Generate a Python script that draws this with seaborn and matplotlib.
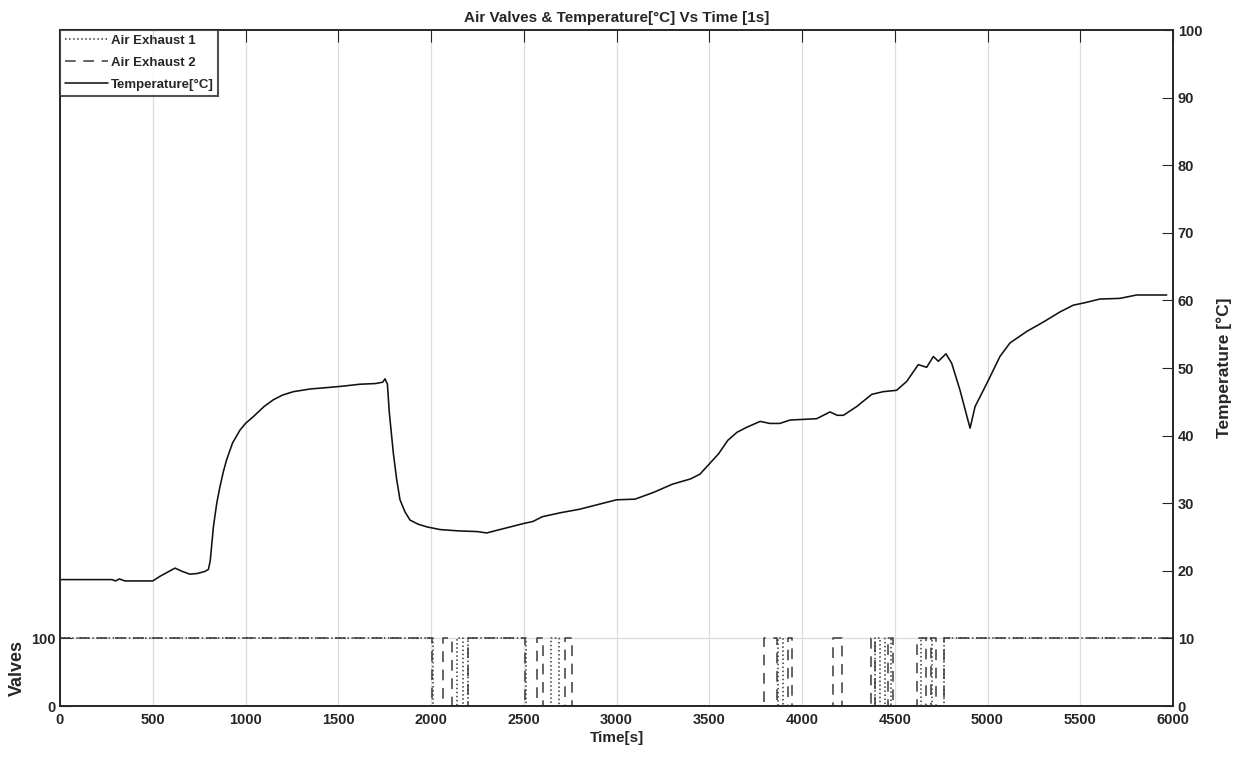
import pandas as pd
import matplotlib
matplotlib.use('Agg')
import matplotlib.pyplot as plt
import seaborn as sns

# temperature readings
time_s = [0, 100, 200, 280, 300, 320, 350, 400, 500, 540, 580, 620, 660, 700, 740, 780,
          800, 810, 827, 845, 862, 880, 898, 930, 970, 1000, 1042, 1100, 1150, 1200, 1258,
          1350, 1438, 1520, 1617, 1700, 1740, 1752, 1765, 1775, 1797, 1815, 1833, 1860,
          1887, 1930, 1977, 2049, 2150, 2250, 2300, 2400, 2500, 2550, 2600, 2700, 2800,
          2900, 3000, 3100, 3200, 3300, 3400, 3450, 3500, 3550, 3600, 3650, 3700, 3774,
          3827, 3881, 3935, 4007, 4079, 4151, 4190, 4223, 4295, 4376, 4438, 4510, 4564,
          4627, 4672, 4708, 4735, 4776, 4807, 4852, 4906, 4933, 4996, 5067, 5121, 5211,
          5301, 5391, 5463, 5516, 5606, 5714, 5804, 5966]
temperature = [18.7, 18.7, 18.7, 18.7, 18.5, 18.8, 18.5, 18.5, 18.5, 19.2, 19.8, 20.4, 19.9,
               19.5, 19.6, 19.9, 20.2, 21.5, 26.5, 30.0, 32.4, 34.6, 36.4, 38.9, 40.8, 41.8,
               42.8, 44.3, 45.3, 46.0, 46.5, 46.9, 47.1, 47.3, 47.6, 47.7, 47.9, 48.4, 47.6,
               43.5, 37.4, 33.5, 30.5, 28.7, 27.5, 26.9, 26.5, 26.1, 25.9, 25.8, 25.6, 26.3,
               27.0, 27.3, 28.0, 28.6, 29.1, 29.8, 30.5, 30.6, 31.6, 32.8, 33.6, 34.3, 35.8,
               37.3, 39.3, 40.5, 41.2, 42.1, 41.8, 41.8, 42.3, 42.4, 42.5, 43.5, 43.0, 43.0,
               44.3, 46.1, 46.5, 46.7, 48.0, 50.5, 50.1, 51.7, 51.0, 52.1, 50.7, 46.7, 41.1,
               44.3, 47.7, 51.7, 53.7, 55.4, 56.8, 58.3, 59.3, 59.6, 60.2, 60.3, 60.8, 60.8]

# valve states (switching times, value held until next time)
ex1_time = [0, 2010, 2140, 2172, 2201, 2510, 2645, 2690, 3870, 3895, 4395, 4420, 4450,
            4480, 4640, 4700, 4765, 6000]
ex1_val = [100, 0, 100, 0, 100, 0, 100, 0, 100, 0, 100, 0, 100, 0, 100, 0, 100, 100]
ex2_time = [0, 2003, 2066, 2111, 2201, 2507, 2570, 2605, 2722, 2758, 3795, 3867, 3926,
            3944, 4165, 4214, 4370, 4392, 4465, 4489, 4622, 4668, 4693, 4722, 4765, 6000]
ex2_val = [100, 0, 100, 0, 100, 0, 100, 0, 100, 0, 100, 0, 100, 0, 100, 0, 100, 0, 100, 0,
           100, 0, 100, 0, 100, 100]

temp_df = pd.DataFrame({'t': time_s, 'T': temperature})
ex1_df = pd.DataFrame({'t': ex1_time, 'v': ex1_val})
ex2_df = pd.DataFrame({'t': ex2_time, 'v': ex2_val})

sns.set_style('white')
plt.rcParams['font.family'] = ['Liberation Sans', 'DejaVu Sans']
plt.rcParams['font.weight'] = 'bold'

fig = plt.figure(figsize=(12.41, 7.63), dpi=100)
ax = fig.add_axes([60 / 1241, 57 / 763, 1113 / 1241, 676 / 763])
ax2 = ax.twinx()

sns.lineplot(data=ex1_df, x='t', y='v', ax=ax, estimator=None, sort=False,
             drawstyle='steps-post', color='#3a3a3a', linestyle=':', linewidth=1.1,
             label='Air Exhaust 1', legend=False)
sns.lineplot(data=ex2_df, x='t', y='v', ax=ax, estimator=None, sort=False,
             drawstyle='steps-post', color='#3a3a3a', linestyle=(0, (7, 5)), linewidth=1.1,
             label='Air Exhaust 2', legend=False)
sns.lineplot(data=temp_df, x='t', y='T', ax=ax2, estimator=None, sort=False,
             color='#111111', linewidth=1.15, label='Temperature[°C]', legend=False)

# left axis: valves
ax.set_xlim(0, 6000)
ax.set_ylim(0, 1000)
ax.set_xticks(range(0, 6001, 500))
ax.set_yticks([0, 100])
ax.grid(True, color='#dcdcdc', linewidth=0.9)
ax.set_ylabel('Valves', fontsize=13, fontweight='bold')
ax.yaxis.set_label_coords(-0.031, 0.056)
ax.set_xlabel('Time[s]', fontsize=11, fontweight='bold', labelpad=3)
ax.tick_params(axis='x', direction='in', length=8.5, top=True, labelsize=10.5,
               labelcolor='#262626', pad=5)
ax.tick_params(axis='y', direction='in', length=8.5, labelsize=10.5, labelcolor='#262626')

# right axis: temperature
ax2.set_ylim(0, 100)
ax2.set_yticks(range(0, 101, 10))
ax2.grid(False)
ax2.set_ylabel('Temperature [°C]', fontsize=12.5, fontweight='bold', labelpad=10)
ax2.tick_params(axis='y', direction='in', length=8, labelsize=10.5, labelcolor='#262626')
ax2.set_xlabel('')

for a in (ax, ax2):
    for s in a.spines.values():
        s.set_color('#262626')
        s.set_linewidth(1.2)

ax.set_title('Air Valves & Temperature[°C] Vs Time [1s]', fontsize=11, fontweight='bold', pad=6)

handles = ax.get_lines()[:2] + ax2.get_lines()[:1]
leg = ax2.legend(handles, ['Air Exhaust 1', 'Air Exhaust 2', 'Temperature[°C]'],
                 loc='upper left', fontsize=9.5, frameon=True, fancybox=False,
                 borderaxespad=0.0, handlelength=3.3, handletextpad=0.2,
                 labelspacing=0.75, borderpad=0.35)
leg.get_frame().set_edgecolor('#262626')
leg.get_frame().set_linewidth(1.5)
for txt in leg.get_texts():
    txt.set_fontweight('bold')

plt.savefig('out.png', dpi=100)
